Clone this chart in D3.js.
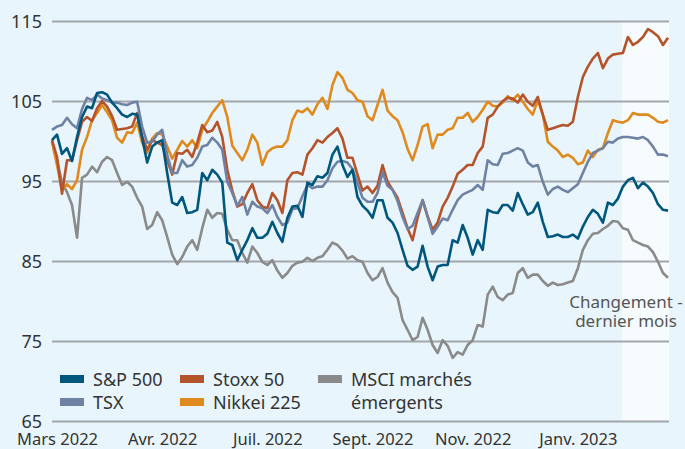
<!DOCTYPE html>
<html lang="fr">
<head>
	<meta charset="utf-8">
	<title>Indices boursiers</title>
	<style>
		body { margin: 0; background: #e8f5fc; }
		svg { display: block; font-family: "Noto Sans", "Open Sans", sans-serif; }
	</style>
	<script src="https://cdn.jsdelivr.net/npm/d3@7"></script>
</head>
<body>
<script>
// indices, base 100 au début de mars 2022 (lecture du graphique, env. tous les 2 jours de bourse)
var sp500 = [100.1,100.8,98.4,99.1,97.5,100.5,103.0,104.3,104.1,106.0,106.1,105.8,104.8,104.1,103.3,103.0,103.4,103.3,100.4,97.3,
	99.3,99.8,100.1,96.0,92.3,92.0,93.0,91.0,91.1,91.4,96.0,95.1,96.4,95.8,94.8,87.3,87.0,85.1,86.4,87.6,
	89.1,87.9,87.9,88.4,89.9,88.5,87.4,90.4,91.8,91.9,90.5,94.8,94.5,95.6,95.4,96.0,98.3,99.3,97.0,95.5,
	96.4,93.0,91.9,91.3,90.4,92.6,92.6,90.4,89.8,88.5,86.4,84.4,83.9,84.3,86.9,84.3,82.6,84.3,84.5,84.5,
	87.6,87.3,89.5,87.9,85.8,87.6,86.4,91.4,91.1,91.0,92.0,92.0,91.3,93.5,92.1,90.8,91.1,92.3,89.9,88.0,
	88.1,88.3,88.0,88.0,88.3,87.8,89.3,90.5,91.4,90.9,89.8,92.3,92.0,92.8,94.3,95.1,95.4,94.1,94.8,94.3,
	93.5,92.1,91.4,91.3];
var tsx = [101.4,101.8,102.0,102.9,102.1,101.6,104.0,105.4,105.1,105.8,105.3,105.1,104.8,104.8,104.6,104.5,104.8,104.9,101.8,99.8,
	99.9,100.8,101.4,98.3,96.0,96.0,97.6,96.8,97.0,97.9,99.3,99.5,100.4,99.8,98.9,94.9,93.5,91.9,93.0,90.8,
	92.4,91.8,91.6,91.0,92.0,90.5,89.5,89.8,91.5,91.6,93.1,94.5,94.1,94.3,94.3,95.1,96.6,97.4,97.5,97.3,
	96.5,94.8,92.9,92.4,92.4,93.5,96.1,94.4,93.9,92.5,90.5,89.0,89.4,91.0,92.6,90.5,88.4,89.3,90.3,90.1,
	91.4,92.6,93.3,93.6,93.9,94.5,93.9,97.6,97.1,97.0,98.4,98.5,98.8,99.1,98.8,97.3,96.8,97.0,94.9,93.3,
	94.0,94.3,93.9,93.6,94.1,94.6,96.0,97.4,98.5,98.8,99.1,99.9,99.8,100.3,100.5,100.5,100.4,100.3,100.5,100.1,
	99.3,98.3,98.3,98.1];
var stoxx50 = [100.1,98.0,93.4,97.6,97.6,100.1,102.4,103.0,102.5,104.1,105.0,104.3,103.1,101.4,101.5,101.6,101.8,103.5,100.6,98.9,
	100.1,99.8,99.5,97.6,95.8,98.5,98.4,98.9,98.0,99.8,102.0,101.1,101.3,102.4,100.5,96.4,93.8,91.8,92.1,93.5,
	94.6,92.6,91.8,91.6,93.5,92.6,91.0,95.1,96.0,96.1,95.8,98.3,99.1,100.1,99.8,100.5,101.0,101.6,100.3,97.9,
	97.9,95.8,93.8,94.3,93.5,94.4,97.0,94.9,93.9,92.9,91.0,89.1,87.6,90.4,92.6,90.6,88.9,89.8,91.8,92.9,
	94.3,95.9,96.4,97.0,97.0,98.5,99.3,102.9,103.3,104.3,105.0,105.4,105.3,104.8,105.8,104.9,104.4,105.5,103.3,101.4,
	101.6,101.8,102.0,101.9,102.4,105.5,108.0,109.3,110.3,111.0,109.1,110.3,110.8,110.9,111.0,113.0,112.0,112.4,113.0,114.0,
	113.6,113.1,112.0,112.9];
var nikkei225 = [99.9,97.0,93.9,94.6,94.0,95.1,98.9,100.5,102.6,103.5,104.5,103.6,102.6,100.4,99.8,101.1,101.0,102.3,99.8,98.5,
	100.3,101.0,100.8,99.3,97.8,98.9,100.0,99.3,100.1,99.1,101.4,102.4,103.5,104.3,105.1,103.0,99.4,98.5,97.6,98.9,
	100.8,99.8,97.0,98.6,99.1,99.3,99.3,100.1,102.6,103.8,103.6,104.1,103.3,104.6,105.4,104.0,107.0,108.6,107.9,106.4,
	106.0,105.1,104.9,103.1,102.6,104.5,106.4,103.8,103.1,102.6,101.1,99.0,97.6,99.5,101.8,102.1,99.1,100.8,100.8,101.4,
	101.6,102.9,102.9,103.5,102.4,103.0,103.9,104.9,104.4,104.3,104.8,105.6,105.1,105.8,104.9,104.0,103.3,105.1,103.3,99.9,
	99.3,98.8,98.0,98.3,97.9,97.1,97.3,98.8,98.0,98.9,99.1,101.0,102.6,102.4,102.3,102.6,103.5,103.3,103.3,103.3,
	102.9,102.4,102.3,102.6];
var msciEm = [100.0,97.6,94.8,93.6,92.0,87.9,95.4,95.8,96.8,96.1,97.4,98.0,97.6,96.0,94.5,94.9,94.3,92.9,91.8,89.0,
	89.5,91.1,90.1,88.0,85.8,84.6,85.5,86.8,87.6,86.4,89.1,91.4,90.4,91.0,90.9,88.9,87.6,87.6,86.0,84.8,
	86.8,86.0,84.9,84.5,85.1,83.8,82.9,83.5,84.4,84.8,84.9,85.4,85.0,85.4,85.6,86.4,87.3,87.0,86.3,85.3,
	85.6,85.1,84.9,83.5,82.6,83.0,84.1,82.3,81.1,80.4,77.6,76.4,75.1,75.5,77.9,76.4,74.5,73.5,75.1,74.4,
	72.9,73.6,73.3,74.5,75.1,77.0,76.8,80.8,81.8,80.5,80.1,80.8,81.0,83.5,84.1,82.9,83.3,83.3,82.5,81.9,
	82.3,82.0,82.1,82.3,82.5,84.1,86.4,87.6,88.4,88.5,89.0,89.4,90.0,89.9,89.1,88.9,87.6,87.3,87.0,86.8,
	86.1,84.9,83.5,82.9];

var yTicks = [65, 75, 85, 95, 105, 115];
var monthLabels = ["Mars 2022", "Avr. 2022", "Juil. 2022", "Sept. 2022", "Nov. 2022", "Janv. 2023"];
var monthIdx = [1, 22, 43, 64, 84, 105];
var lastMonthStart = 113.8;

var series = [
	{ name: "MSCI marchés", name2: "émergents", values: msciEm, color: "#8a8a8a" },
	{ name: "Nikkei 225", values: nikkei225, color: "#e08a1e" },
	{ name: "Stoxx 50", values: stoxx50, color: "#b5532a" },
	{ name: "TSX", values: tsx, color: "#7082a3" },
	{ name: "S&P 500", values: sp500, color: "#00577e" }
];

var w = 685, h = 449;
var plotLeft = 52, plotRight = 669, plotTop = 21, plotBottom = 421;

var svg = d3.select("body").append("svg")
	.attr("width", w)
	.attr("height", h);

var x = d3.scaleLinear().domain([0, sp500.length - 1]).range([plotLeft, 668]);
var y = d3.scaleLinear().domain([65, 115]).range([plotBottom, plotTop]);

// bande "dernier mois"
svg.append("rect")
	.attr("x", x(lastMonthStart))
	.attr("y", plotTop)
	.attr("width", plotRight - x(lastMonthStart))
	.attr("height", plotBottom - plotTop)
	.attr("fill", "#f6fbfe");

// grille + étiquettes de l'axe y
var yAxis = d3.axisLeft(y)
	.tickValues(yTicks)
	.tickSize(-(plotRight - plotLeft))
	.tickPadding(10);
var gy = svg.append("g")
	.attr("transform", "translate(" + plotLeft + ",0)")
	.call(yAxis);
gy.select(".domain").remove();
gy.selectAll("line").attr("stroke", "#a3a6a9").attr("stroke-width", 2);
gy.selectAll("text")
	.attr("font-family", "'Noto Sans', sans-serif")
	.attr("font-size", "18px")
	.attr("fill", "#333")
	.attr("dy", "0.35em");

// étiquettes de l'axe x
var xAxis = d3.axisBottom(x)
	.tickValues(monthIdx)
	.tickFormat(function (d, i) { return monthLabels[i]; })
	.tickSize(0)
	.tickPadding(12);
var gx = svg.append("g")
	.attr("transform", "translate(0," + plotBottom + ")")
	.call(xAxis);
gx.select(".domain").remove();
gx.selectAll("text")
	.attr("font-family", "'Noto Sans', sans-serif")
	.attr("font-size", "16.5px")
	.attr("fill", "#333");

var line = d3.line()
	.x(function (d, i) { return x(i); })
	.y(function (d) { return y(d); });

svg.selectAll("path.serie")
	.data(series)
	.enter()
	.append("path")
	.attr("class", "serie")
	.attr("d", function (d) { return line(d.values); })
	.attr("fill", "none")
	.attr("stroke", function (d) { return d.color; })
	.attr("stroke-width", 2.6)
	.attr("stroke-linejoin", "round");

// légende
var legend = [
	{ s: series[4], x: 60, y: 379 },
	{ s: series[3], x: 60, y: 402 },
	{ s: series[2], x: 180, y: 379 },
	{ s: series[1], x: 180, y: 402 },
	{ s: series[0], x: 318, y: 379 }
];
var lg = svg.selectAll("g.leg")
	.data(legend)
	.enter()
	.append("g")
	.attr("class", "leg")
	.attr("transform", function (d) { return "translate(" + d.x + "," + d.y + ")"; });
lg.append("rect")
	.attr("x", 0).attr("y", -4)
	.attr("width", 24).attr("height", 8)
	.attr("fill", function (d) { return d.s.color; });
lg.append("text")
	.attr("x", 33)
	.attr("y", 7)
	.attr("font-size", "18px")
	.attr("fill", "#333")
	.text(function (d) { return d.s.name; });
lg.filter(function (d) { return d.s.name2; })
	.append("text")
	.attr("x", 33)
	.attr("y", 30)
	.attr("font-size", "18px")
	.attr("fill", "#333")
	.text(function (d) { return d.s.name2; });

// annotation
var note = svg.append("text")
	.attr("text-anchor", "middle")
	.attr("font-size", "17px")
	.attr("fill", "#555");
note.append("tspan").attr("x", 626).attr("y", 308).text("Changement -");
note.append("tspan").attr("x", 626).attr("y", 327).text("dernier mois");
</script>
</body>
</html>
